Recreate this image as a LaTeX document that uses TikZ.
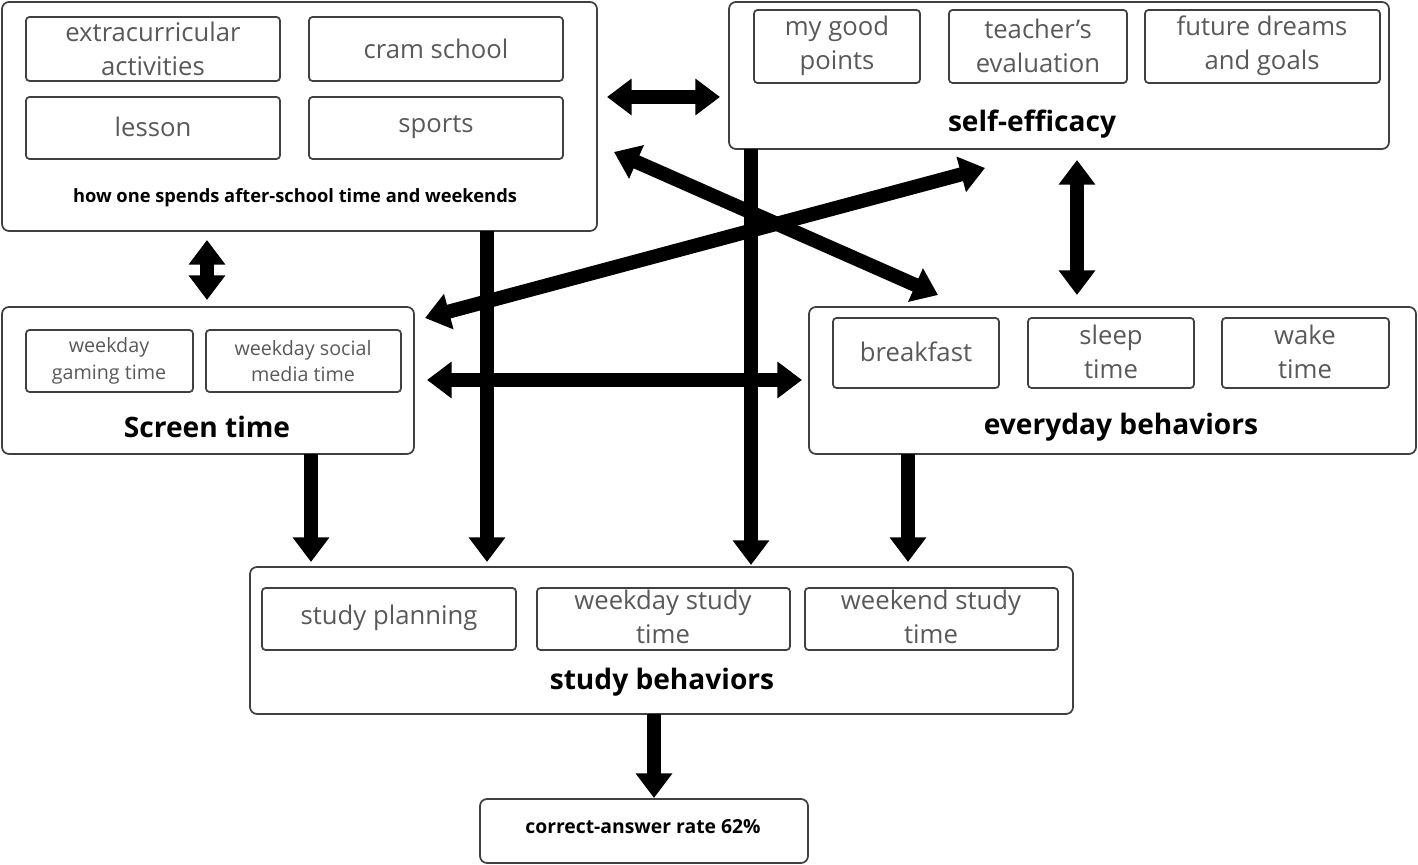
\documentclass[tikz,border=0pt]{standalone}
\usepackage{fontspec}
\setmainfont{Open Sans}
\usetikzlibrary{arrows.meta}
\begin{document}
\begin{tikzpicture}[x=0.01cm,y=-0.01cm,
 grp/.style={draw=black!75,line width=0.5pt,rounded corners=2pt},
 inb/.style={draw=black!75,line width=0.5pt,rounded corners=1pt},
 it/.style={text=black!65,font=\fontsize{7.3}{9.8}\selectfont,align=center},
 st/.style={text=black!65,font=\fontsize{5.6}{7.6}\selectfont,align=center},
 lb/.style={font=\fontsize{8}{8}\selectfont\bfseries},
 ar/.style={line width=4pt,-{Triangle[length=7pt,width=10pt]}},
 dar/.style={line width=4pt,{Triangle[length=7pt,width=10pt]}-{Triangle[length=7pt,width=10pt]}}]
\useasboundingbox (0,0) rectangle (1418,865);
% group A
\draw[grp] (2,2) rectangle (597,231);
\draw[inb] (26,17) rectangle (280,81); \node[it] (ea) at (153,49) {extracurricular\\activities};
\draw[inb] (309,17) rectangle (563,81); \node[it] (cs) at (436,49) {cram school};
\draw[inb] (26,97) rectangle (280,159); \node[it] (le) at (153,127) {lesson};
\draw[inb] (309,97) rectangle (563,159); \node[it] (sp) at (436,127) {sports};
\node[font=\fontsize{5.2}{6}\selectfont\bfseries] (ca) at (295,198) {how one spends after-school time and weekends};
% self-efficacy
\draw[grp] (729,2) rectangle (1389,149);
\draw[inb] (754,10) rectangle (920,83); \node[it] (gp) at (837,46) {my good\\points};
\draw[inb] (949,10) rectangle (1127,83); \node[it] (te) at (1038,46) {teacher’s\\evaluation};
\draw[inb] (1145,10) rectangle (1380,83); \node[it] (fd) at (1262,46) {future dreams\\and goals};
\node[lb] (se) at (1032,124) {self-efficacy};
% screen
\draw[grp] (2,307) rectangle (414,454);
\draw[inb] (26,330) rectangle (193,392); \node[st] (gt) at (109,361) {weekday\\gaming time};
\draw[inb] (206,330) rectangle (401,392); \node[st] (sm) at (303,361) {weekday social\\media time};
\node[lb] (sc) at (207,427) {Screen time};
% everyday
\draw[grp] (809,307) rectangle (1416,454);
\draw[inb] (833,318) rectangle (999,388); \node[it] (bf) at (916,352) {breakfast};
\draw[inb] (1028,318) rectangle (1194,388); \node[it] (sl) at (1111,352) {sleep\\time};
\draw[inb] (1222,318) rectangle (1389,388); \node[it] (wk) at (1305,352) {wake\\time};
\node[lb] (eb) at (1121,427) {everyday behaviors};
% study
\draw[grp] (250,567) rectangle (1073,714);
\draw[inb] (262,588) rectangle (516,650); \node[it] (pl) at (389,618) {study planning};
\draw[inb] (537,588) rectangle (790,650); \node[it] (wd) at (663,617) {weekday study\\time};
\draw[inb] (805,588) rectangle (1058,650); \node[it] (we) at (931,617) {weekend study\\time};
\node[lb] (sb) at (662,682) {study behaviors};
% correct
\draw[grp] (480,799) rectangle (808,863);
\node[font=\fontsize{5.5}{6}\selectfont\bfseries] (cr) at (643,827) {correct-answer rate 62\%};
% arrows
\coordinate (a1) at (607,97); \coordinate (a2) at (720,97);
\coordinate (b1) at (207,240); \coordinate (b2) at (207,300);
\coordinate (c1) at (1077,160); \coordinate (c2) at (1077,295);
\coordinate (d1) at (614,152); \coordinate (d2) at (938,295);
\coordinate (e1) at (425,318); \coordinate (e2) at (985,168);
\coordinate (f1) at (427,380); \coordinate (f2) at (802,380);
\coordinate (g1) at (311,454); \coordinate (g2) at (311,562);
\coordinate (h1) at (487,231); \coordinate (h2) at (487,562);
\coordinate (i1) at (751,149); \coordinate (i2) at (751,565);
\coordinate (j1) at (908,454); \coordinate (j2) at (908,562);
\coordinate (k1) at (654,714); \coordinate (k2) at (654,798);
\draw[dar] (a1)--(a2); \draw[dar] (b1)--(b2); \draw[dar] (c1)--(c2);
\draw[dar] (d1)--(d2); \draw[dar] (e1)--(e2); \draw[dar] (f1)--(f2);
\draw[ar] (g1)--(g2); \draw[ar] (h1)--(h2); \draw[ar] (i1)--(i2);
\draw[ar] (j1)--(j2); \draw[ar] (k1)--(k2);
\end{tikzpicture}
\end{document}
